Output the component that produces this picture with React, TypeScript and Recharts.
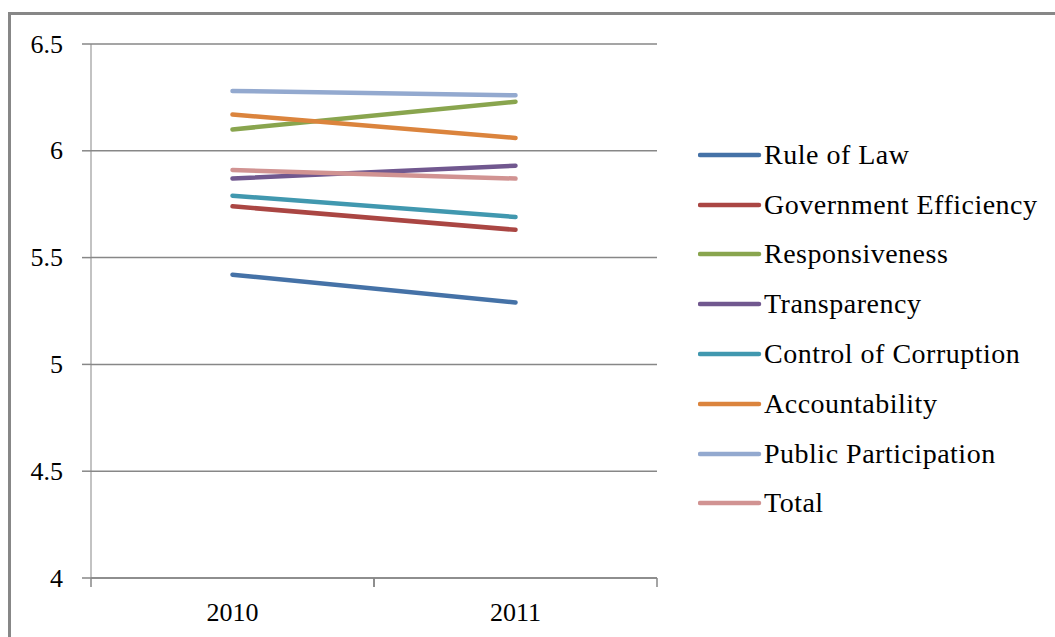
import React from 'react';
import { LineChart, Line, XAxis, YAxis, CartesianGrid, Legend } from 'recharts';

const categories = ['2010', '2011'];
const ruleOfLaw = [5.42, 5.29];
const govEfficiency = [5.74, 5.63];
const responsiveness = [6.10, 6.23];
const transparency = [5.87, 5.93];
const controlOfCorruption = [5.79, 5.69];
const accountability = [6.17, 6.06];
const publicParticipation = [6.28, 6.26];
const total = [5.91, 5.87];
const yTicks = [4, 4.5, 5, 5.5, 6, 6.5];

const seriesNames = [
  'Rule of Law',
  'Government Efficiency',
  'Responsiveness',
  'Transparency',
  'Control of Corruption',
  'Accountability',
  'Public Participation',
  'Total',
];
const seriesValues = [
  ruleOfLaw,
  govEfficiency,
  responsiveness,
  transparency,
  controlOfCorruption,
  accountability,
  publicParticipation,
  total,
];
const seriesColors = ['#4572A7', '#AA4643', '#89A54E', '#71588F', '#4198AF', '#DB843D', '#93A9CF', '#D19392'];

const data = categories.map((c, i) => {
  const row: Record<string, string | number> = { year: c };
  seriesNames.forEach((n, s) => {
    row[n] = seriesValues[s][i];
  });
  return row;
});

const W = 1055;
const H = 637;
const PLOT_LEFT = 91;
const PLOT_RIGHT = 657;
const PLOT_TOP = 44;
const X_AXIS_H = 59;
const BAND = (PLOT_RIGHT - PLOT_LEFT) / categories.length;
const FONT = '"Liberation Serif", "Times New Roman", serif';
const GRID = '#878787';

const XTick = (props: any) => {
  const { x, y, payload } = props;
  return (
    <g>
      <line x1={x - BAND / 2} x2={x - BAND / 2} y1={y} y2={y + 9} stroke={GRID} strokeWidth={1.5} />
      <line x1={x + BAND / 2} x2={x + BAND / 2} y1={y} y2={y + 9} stroke={GRID} strokeWidth={1.5} />
      <text x={x} y={y + 34} textAnchor="middle" dominantBaseline="central" style={{ fontFamily: FONT, fontSize: 26 }} fill="#000">
        {payload.value}
      </text>
    </g>
  );
};

const YTick = (props: any) => {
  const { x, y, payload } = props;
  return (
    <text x={x} y={y} textAnchor="end" dominantBaseline="central" style={{ fontFamily: FONT, fontSize: 26 }} fill="#000">
      {payload.value}
    </text>
  );
};

const LegendContent = (props: any) => {
  const payload = [...(props.payload || [])].sort(
    (a: any, b: any) => seriesNames.indexOf(a.value) - seriesNames.indexOf(b.value)
  );
  return (
    <div style={{ fontFamily: FONT, fontSize: 28, letterSpacing: 0.5, color: '#000' }}>
      {payload.map((p: any) => (
        <div key={p.value} style={{ height: 49.8, display: 'flex', alignItems: 'center', whiteSpace: 'nowrap' }}>
          <svg width={66} height={10} style={{ flex: 'none' }}>
            <line x1={2} x2={61} y1={5} y2={5} stroke={p.color} strokeWidth={4.5} strokeLinecap="round" />
          </svg>
          <span>{p.value}</span>
        </div>
      ))}
    </div>
  );
};

export default function App() {
  return (
    <div style={{ position: 'fixed', left: 0, top: 0, width: W, height: H, overflow: 'hidden', background: '#fff' }}>
      <div
        style={{
          position: 'absolute',
          left: 8,
          top: 12,
          width: 1100,
          height: 700,
          border: '3px solid #878787',
        }}
      />
      <div style={{ position: 'absolute', left: 0, top: 0 }}>
        <LineChart
          width={W}
          height={H}
          data={data}
          margin={{ top: PLOT_TOP, right: W - PLOT_RIGHT, bottom: 0, left: 0 }}
        >
          <CartesianGrid horizontal vertical={false} stroke={GRID} strokeWidth={1.5} />
          <XAxis
            dataKey="year"
            scale="band"
            height={X_AXIS_H}
            tickLine={false}
            tickSize={0}
            tickMargin={0}
            axisLine={{ stroke: GRID, strokeWidth: 1.5 }}
            tick={<XTick />}
            interval={0}
          />
          <YAxis
            width={PLOT_LEFT}
            domain={[4, 6.5]}
            ticks={yTicks}
            tickSize={9}
            tickMargin={19}
            tickLine={{ stroke: GRID, strokeWidth: 1.5 }}
            axisLine={{ stroke: GRID, strokeWidth: 1 }}
            tick={<YTick />}
            interval={0}
            allowDataOverflow
          />
          <Legend
            layout="vertical"
            align="center"
            verticalAlign="middle"
            content={<LegendContent />}
            wrapperStyle={{ position: 'absolute', left: 698, top: 130, width: 357 }}
          />
          {seriesNames.map((n, i) => (
            <Line
              key={n}
              type="linear"
              dataKey={n}
              name={n}
              stroke={seriesColors[i]}
              strokeWidth={4.5}
              strokeLinecap="round"
              dot={false}
              activeDot={false}
              isAnimationActive={false}
            />
          ))}
        </LineChart>
      </div>
    </div>
  );
}
